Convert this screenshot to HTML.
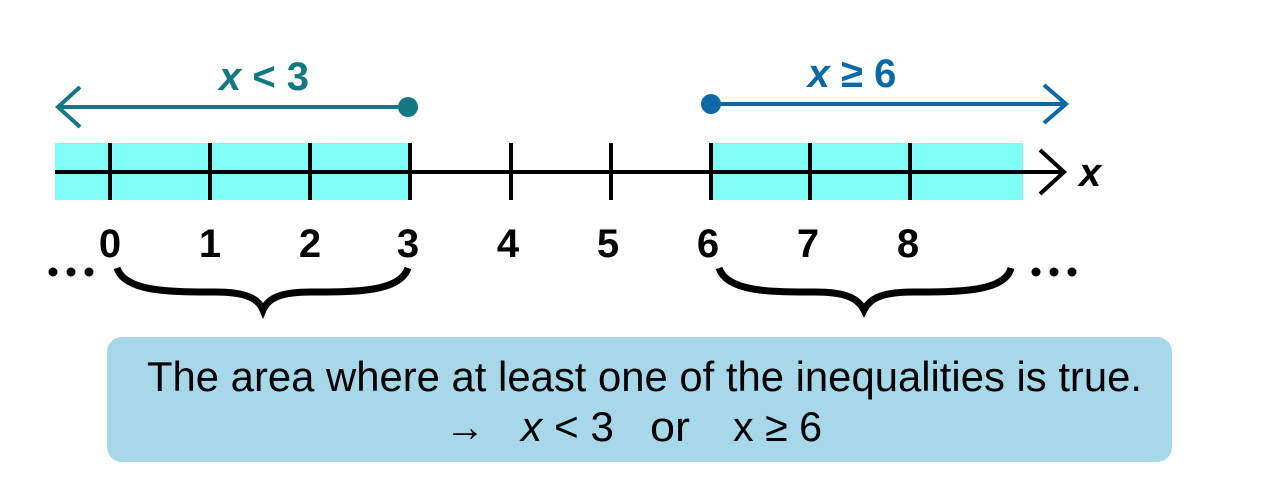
<!DOCTYPE html>
<html><head><meta charset="utf-8"><style>html,body{margin:0;padding:0;background:#fff;width:1280px;height:481px;overflow:hidden}</style></head>
<body>
<svg width="1280" height="481" viewBox="0 0 1280 481" xmlns="http://www.w3.org/2000/svg" font-family="Liberation Sans, Arial, sans-serif">
<rect x="55" y="143" width="353" height="57" fill="#80fff8"/>
<rect x="712" y="143" width="311" height="57" fill="#80fff8"/>
<line x1="55" y1="172" x2="1064" y2="172" stroke="#000" stroke-width="4"/>
<polyline points="1040,150 1064,172 1040,194" fill="none" stroke="#000" stroke-width="4"/>
<g stroke="#000" stroke-width="4">
<line x1="110" y1="143" x2="110" y2="200"/><line x1="210" y1="143" x2="210" y2="200"/>
<line x1="310" y1="143" x2="310" y2="200"/><line x1="410" y1="143" x2="410" y2="200"/>
<line x1="511" y1="143" x2="511" y2="200"/><line x1="611" y1="143" x2="611" y2="200"/>
<line x1="711" y1="143" x2="711" y2="200"/><line x1="810" y1="143" x2="810" y2="200"/>
<line x1="910" y1="143" x2="910" y2="200"/>
</g>
<text x="1079" y="186" font-size="40" font-weight="bold" font-style="italic">x</text>
<g font-size="40" font-weight="bold" text-anchor="middle">
<text x="110" y="257">0</text><text x="210" y="257">1</text><text x="310" y="257">2</text>
<text x="408" y="257">3</text><text x="508" y="257">4</text><text x="608" y="257">5</text>
<text x="708" y="257">6</text><text x="808" y="257">7</text><text x="908" y="257">8</text>
</g>
<g fill="#000"><circle cx="53" cy="272" r="4.5"/><circle cx="71" cy="272" r="4.5"/><circle cx="89" cy="272" r="4.5"/>
<circle cx="1036" cy="272" r="4.5"/><circle cx="1054" cy="272" r="4.5"/><circle cx="1072" cy="272" r="4.5"/></g>
<path d="M117,268 C125,292 170,292 215,292 C245,292 258,298 263,310 C268,298 281,292 311,292 C356,292 400,292 408,268" fill="none" stroke="#000" stroke-width="7"/>
<path d="M719,268 C727,292 770,292 815,292 C845,292 858,298 864,310 C870,298 883,292 913,292 C958,292 1005,292 1011,268" fill="none" stroke="#000" stroke-width="7"/>
<line x1="60" y1="107" x2="408" y2="107" stroke="#137883" stroke-width="4"/>
<polyline points="80,87 58,107 80,127" fill="none" stroke="#137883" stroke-width="4"/>
<circle cx="408" cy="107" r="10" fill="#137883"/>
<text x="264" y="90" font-size="40" font-weight="bold" fill="#137883" text-anchor="middle"><tspan font-style="italic">x</tspan> &lt; 3</text>
<line x1="711" y1="104" x2="1064" y2="104" stroke="#0b69a6" stroke-width="4"/>
<polyline points="1044,85 1066,104 1044,123" fill="none" stroke="#0b69a6" stroke-width="4"/>
<circle cx="711" cy="104" r="10" fill="#0b69a6"/>
<text x="852" y="87" font-size="40" font-weight="bold" fill="#0b69a6" text-anchor="middle"><tspan font-style="italic">x</tspan> ≥ 6</text>
<rect x="107" y="337" width="1065" height="125" rx="15" fill="#a6d8ea"/>
<text x="147" y="391" font-size="42" textLength="995" lengthAdjust="spacingAndGlyphs">The area where at least one of the inequalities is true.</text>
<g font-size="42">
<text x="445" y="441" textLength="40" lengthAdjust="spacingAndGlyphs">→</text>
<text x="521" y="441" textLength="93" lengthAdjust="spacingAndGlyphs"><tspan font-style="italic">x</tspan> &lt; 3</text>
<text x="650" y="441" textLength="40" lengthAdjust="spacingAndGlyphs">or</text>
<text x="733" y="441" textLength="89" lengthAdjust="spacingAndGlyphs">x ≥ 6</text>
</g>
</svg>
</body></html>
